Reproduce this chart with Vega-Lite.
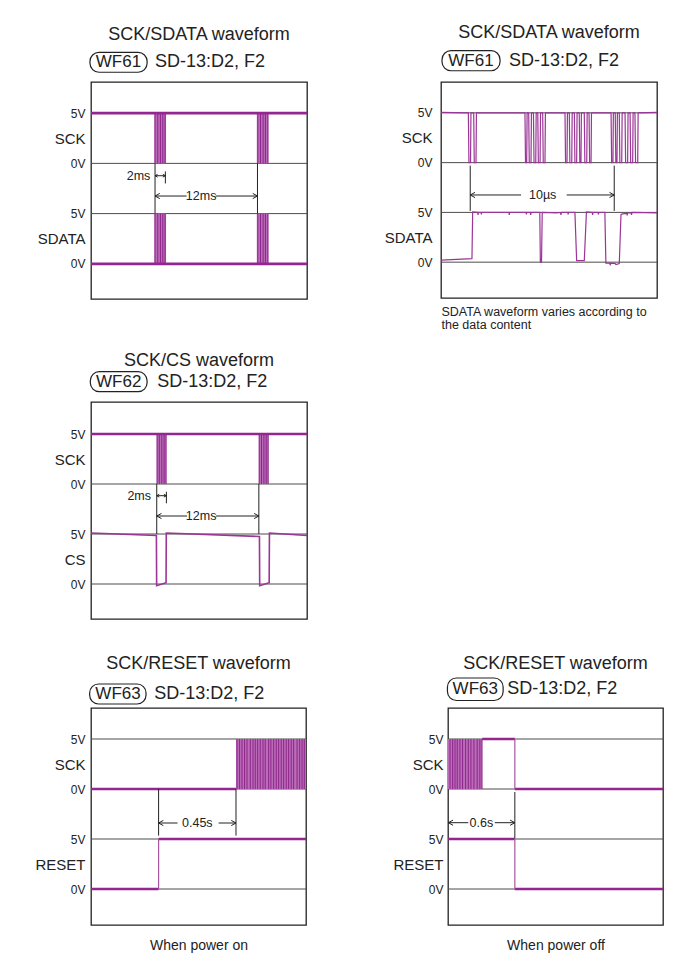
{
 "$schema": "https://vega.github.io/schema/vega-lite/v6.json",
 "background": "white",
 "padding": {"left": 32, "top": 23, "right": 5, "bottom": 5},
 "config": {
  "font": "Liberation Sans",
  "view": {"stroke": "#222", "strokeWidth": 1.3},
  "title": {"fontSize": 18, "fontWeight": "normal", "color": "#222", "frame": "group", "anchor": "middle", "baseline": "alphabetic"}
 },
 "spacing": 34,
 "vconcat": [
  {"spacing": 19, "vconcat": [
   {"spacing": 73, "hconcat": [
    {
     "width": 216, "height": 217,
     "title": {"text": "SCK/SDATA waveform", "offset": 8},
     "data": {"values": [
      {"k":"grid","t":0,"t2":25.3,"v":0},{"k":"grid","t":0,"t2":25.3,"v":5},{"k":"grid","t":0,"t2":25.3,"v":10},{"k":"grid","t":0,"t2":25.3,"v":15},
      {"k":"burst","t":7.42,"t2":8.79,"v":10,"v2":15},{"k":"burst","t":7.42,"t2":8.79,"v":0,"v2":5},
      {"k":"burst","t":19.42,"t2":20.79,"v":10,"v2":15},{"k":"burst","t":19.42,"t2":20.79,"v":0,"v2":5},
      {"k":"bl","t":7.5,"v":10,"v2":15},{"k":"bl","t":7.82,"v":10,"v2":15},{"k":"bl","t":8.13,"v":10,"v2":15},{"k":"bl","t":8.41,"v":10,"v2":15},{"k":"bl","t":8.68,"v":10,"v2":15},
      {"k":"bl","t":19.54,"v":10,"v2":15},{"k":"bl","t":19.85,"v":10,"v2":15},{"k":"bl","t":20.16,"v":10,"v2":15},{"k":"bl","t":20.43,"v":10,"v2":15},{"k":"bl","t":20.71,"v":10,"v2":15},
      {"k":"bl","t":7.5,"v":0,"v2":5},{"k":"bl","t":7.82,"v":0,"v2":5},{"k":"bl","t":8.13,"v":0,"v2":5},{"k":"bl","t":8.41,"v":0,"v2":5},{"k":"bl","t":8.68,"v":0,"v2":5},
      {"k":"bl","t":19.54,"v":0,"v2":5},{"k":"bl","t":19.85,"v":0,"v2":5},{"k":"bl","t":20.16,"v":0,"v2":5},{"k":"bl","t":20.43,"v":0,"v2":5},{"k":"bl","t":20.71,"v":0,"v2":5},
      {"k":"lvl","t":0,"t2":25.3,"v":15},{"k":"lvl","t":0,"t2":25.3,"v":0},
      {"k":"ann","t":7.5,"t2":7.5,"v":5,"v2":10},{"k":"ann","t":19.5,"t2":19.5,"v":5,"v2":10},
      {"k":"ann","t":8.71,"t2":8.71,"v":8.0,"v2":9.2},{"k":"ann","t":7.5,"t2":8.71,"v":8.77,"v2":8.77},
      {"k":"ann","t":7.5,"t2":11.2,"v":6.75,"v2":6.75},{"k":"ann","t":14.6,"t2":19.5,"v":6.75,"v2":6.75},
      {"k":"arr","t":7.5,"v":6.75,"dir":"L"},{"k":"arr","t":19.5,"v":6.75,"dir":"R"},
      {"k":"arrs","t":7.5,"v":8.77,"dir":"L"},{"k":"arrs","t":8.71,"v":8.77,"dir":"R"},
      {"k":"tc","t":12.9,"v":6.75,"label":"12ms"},
      {"k":"tr","t":6.95,"v":8.77,"label":"2ms"},
      {"k":"wfbox","t":-0.12,"t2":6.57,"v":19.07,"v2":21.05},
      {"k":"wf","t":3.22,"v":20.06,"label":"WF61"},
      {"k":"sub","t":7.5,"v":20.06,"label":"SD-13:D2, F2"}
     ]},
     "encoding": {
      "x": {"field":"t","type":"quantitative","scale":{"domain":[0,25.3],"nice":false,"zero":false},"axis":null},
      "y": {"field":"v","type":"quantitative","scale":{"domain":[-3.5,18.1],"nice":false,"zero":false},
            "axis":{"values":[0,2.5,5,10,12.5,15],"labelExpr":"datum.value==15||datum.value==5 ? '5V' : datum.value==10||datum.value==0 ? '0V' : datum.value==12.5 ? 'SCK' : 'SDATA'","title":null,"domain":false,"ticks":false,"grid":false,"labelPadding":6,"minExtent":58,"maxExtent":58,"labelColor":"#222","labelOverlap":false,"labelBound":false,"labelFlush":false,"labelFontSize":{"condition":{"test":"datum.value==2.5||datum.value==12.5","value":15},"value":12}}}
     },
     "layer": [
      {"transform":[{"filter":"datum.k=='grid'"}],"mark":{"type":"rule","color":"#4d4d4d","strokeWidth":1},"encoding":{"x2":{"field":"t2"}}},
      {"transform":[{"filter":"datum.k=='burst'"}],"mark":{"type":"rect","color":"#bb6cb8"},"encoding":{"x2":{"field":"t2"},"y2":{"field":"v2"}}},
      {"transform":[{"filter":"datum.k=='bl'"}],"mark":{"type":"rule","color":"#8c2489","strokeWidth":1},"encoding":{"y2":{"field":"v2"}}},
      {"transform":[{"filter":"datum.k=='lvl'"}],"mark":{"type":"rule","color":"#93278f","strokeWidth":2.6},"encoding":{"x2":{"field":"t2"}}},
      {"transform":[{"filter":"datum.k=='ann'"}],"mark":{"type":"rule","color":"#222","strokeWidth":1},"encoding":{"x2":{"field":"t2"},"y2":{"field":"v2"}}},
      {"transform":[{"filter":"datum.k=='arr'"}],"mark":{"type":"point","filled":false,"size":90,"color":"#222","strokeWidth":1,"opacity":1},"encoding":{"shape":{"field":"dir","type":"nominal","scale":{"domain":["L","R"],"range":["M0,0L1,-0.55M0,0L1,0.55","M0,0L-1,-0.55M0,0L-1,0.55"]},"legend":null}}},
      {"transform":[{"filter":"datum.k=='arrs'"}],"mark":{"type":"point","filled":false,"size":25,"color":"#222","strokeWidth":1,"opacity":1},"encoding":{"shape":{"field":"dir","type":"nominal","scale":{"domain":["L","R"],"range":["M0,0L1,-0.55M0,0L1,0.55","M0,0L-1,-0.55M0,0L-1,0.55"]},"legend":null}}},
      {"transform":[{"filter":"datum.k=='tc'"}],"mark":{"type":"text","fontSize":12.5,"color":"#222","align":"center","baseline":"middle"},"encoding":{"text":{"field":"label"}}},
      {"transform":[{"filter":"datum.k=='tr'"}],"mark":{"type":"text","fontSize":12.5,"color":"#222","align":"right","baseline":"middle"},"encoding":{"text":{"field":"label"}}},
      {"transform":[{"filter":"datum.k=='wfbox'"}],"mark":{"type":"rect","fill":"#ffffff","fillOpacity":0,"stroke":"#222","strokeWidth":1.2,"cornerRadius":9},"encoding":{"x2":{"field":"t2"},"y2":{"field":"v2"}}},
      {"transform":[{"filter":"datum.k=='wf'"}],"mark":{"type":"text","fontSize":17,"color":"#222","align":"center","baseline":"middle"},"encoding":{"text":{"field":"label"}}},
      {"transform":[{"filter":"datum.k=='sub'"}],"mark":{"type":"text","fontSize":18,"color":"#222","align":"left","baseline":"middle"},"encoding":{"text":{"field":"label"}}}
     ]
    },
    {
     "width": 216, "height": 216,
     "title": {"text": "SCK/SDATA waveform", "offset": 8},
     "data": {"values": [
      {"k":"grid","t":0,"t2":15,"v":0},{"k":"grid","t":0,"t2":15,"v":5},{"k":"grid","t":0,"t2":15,"v":10},{"k":"grid","t":0,"t2":15,"v":15},
      {"k":"wave","ch":"SCK","t":0,"v":15.05},
      {"k":"wave","ch":"SCK","t":1.90,"v":15},{"k":"wave","ch":"SCK","t":1.94,"v":10},{"k":"wave","ch":"SCK","t":2.05,"v":10},{"k":"wave","ch":"SCK","t":2.08,"v":15},
      {"k":"wave","ch":"SCK","t":2.27,"v":15},{"k":"wave","ch":"SCK","t":2.31,"v":10},{"k":"wave","ch":"SCK","t":2.43,"v":10},{"k":"wave","ch":"SCK","t":2.46,"v":15},
      {"k":"wave","ch":"SCK","t":5.83,"v":15},{"k":"wave","ch":"SCK","t":5.87,"v":10},{"k":"wave","ch":"SCK","t":5.95,"v":10},{"k":"wave","ch":"SCK","t":5.98,"v":15},
      {"k":"wave","ch":"SCK","t":6.09,"v":15},{"k":"wave","ch":"SCK","t":6.13,"v":10},{"k":"wave","ch":"SCK","t":6.25,"v":10},{"k":"wave","ch":"SCK","t":6.28,"v":15},
      {"k":"wave","ch":"SCK","t":6.42,"v":15},{"k":"wave","ch":"SCK","t":6.46,"v":10},{"k":"wave","ch":"SCK","t":6.58,"v":10},{"k":"wave","ch":"SCK","t":6.61,"v":15},
      {"k":"wave","ch":"SCK","t":6.72,"v":15},{"k":"wave","ch":"SCK","t":6.76,"v":10},{"k":"wave","ch":"SCK","t":6.88,"v":10},{"k":"wave","ch":"SCK","t":6.91,"v":15},
      {"k":"wave","ch":"SCK","t":7.06,"v":15},{"k":"wave","ch":"SCK","t":7.10,"v":10},{"k":"wave","ch":"SCK","t":7.22,"v":10},{"k":"wave","ch":"SCK","t":7.25,"v":15},
      {"k":"wave","ch":"SCK","t":8.61,"v":15},{"k":"wave","ch":"SCK","t":8.65,"v":10},{"k":"wave","ch":"SCK","t":8.75,"v":10},{"k":"wave","ch":"SCK","t":8.78,"v":15},
      {"k":"wave","ch":"SCK","t":8.91,"v":15},{"k":"wave","ch":"SCK","t":8.95,"v":10},{"k":"wave","ch":"SCK","t":9.08,"v":10},{"k":"wave","ch":"SCK","t":9.11,"v":15},
      {"k":"wave","ch":"SCK","t":9.26,"v":15},{"k":"wave","ch":"SCK","t":9.30,"v":10},{"k":"wave","ch":"SCK","t":9.42,"v":10},{"k":"wave","ch":"SCK","t":9.45,"v":15},
      {"k":"wave","ch":"SCK","t":9.60,"v":15},{"k":"wave","ch":"SCK","t":9.64,"v":10},{"k":"wave","ch":"SCK","t":9.72,"v":10},{"k":"wave","ch":"SCK","t":9.75,"v":15},
      {"k":"wave","ch":"SCK","t":9.95,"v":15},{"k":"wave","ch":"SCK","t":9.99,"v":10},{"k":"wave","ch":"SCK","t":10.12,"v":10},{"k":"wave","ch":"SCK","t":10.15,"v":15},
      {"k":"wave","ch":"SCK","t":10.28,"v":15},{"k":"wave","ch":"SCK","t":10.32,"v":10},{"k":"wave","ch":"SCK","t":10.42,"v":10},{"k":"wave","ch":"SCK","t":10.45,"v":15},
      {"k":"wave","ch":"SCK","t":11.81,"v":15},{"k":"wave","ch":"SCK","t":11.85,"v":10},{"k":"wave","ch":"SCK","t":11.94,"v":10},{"k":"wave","ch":"SCK","t":11.97,"v":15},
      {"k":"wave","ch":"SCK","t":12.10,"v":15},{"k":"wave","ch":"SCK","t":12.14,"v":10},{"k":"wave","ch":"SCK","t":12.22,"v":10},{"k":"wave","ch":"SCK","t":12.25,"v":15},
      {"k":"wave","ch":"SCK","t":12.38,"v":15},{"k":"wave","ch":"SCK","t":12.42,"v":10},{"k":"wave","ch":"SCK","t":12.55,"v":10},{"k":"wave","ch":"SCK","t":12.58,"v":15},
      {"k":"wave","ch":"SCK","t":12.78,"v":15},{"k":"wave","ch":"SCK","t":12.82,"v":10},{"k":"wave","ch":"SCK","t":12.96,"v":10},{"k":"wave","ch":"SCK","t":12.99,"v":15},
      {"k":"wave","ch":"SCK","t":13.13,"v":15},{"k":"wave","ch":"SCK","t":13.17,"v":10},{"k":"wave","ch":"SCK","t":13.31,"v":10},{"k":"wave","ch":"SCK","t":13.34,"v":15},
      {"k":"wave","ch":"SCK","t":13.47,"v":15},{"k":"wave","ch":"SCK","t":13.51,"v":10},{"k":"wave","ch":"SCK","t":13.66,"v":10},{"k":"wave","ch":"SCK","t":13.69,"v":15},
      {"k":"wave","ch":"SCK","t":15,"v":15.05},
      {"k":"wave","ch":"SDATA","t":0,"v":0.2},{"k":"wave","ch":"SDATA","t":2.15,"v":0.35},{"k":"wave","ch":"SDATA","t":2.2,"v":5.05},
      {"k":"wave","ch":"SDATA","t":2.55,"v":5.0},{"k":"wave","ch":"SDATA","t":2.57,"v":4.75},{"k":"wave","ch":"SDATA","t":2.6,"v":5.0},
      {"k":"wave","ch":"SDATA","t":2.78,"v":5.0},{"k":"wave","ch":"SDATA","t":2.8,"v":4.8},{"k":"wave","ch":"SDATA","t":2.83,"v":5.0},
      {"k":"wave","ch":"SDATA","t":4.72,"v":5.0},{"k":"wave","ch":"SDATA","t":4.74,"v":4.75},{"k":"wave","ch":"SDATA","t":4.77,"v":5.0},
      {"k":"wave","ch":"SDATA","t":5.9,"v":5.0},{"k":"wave","ch":"SDATA","t":5.93,"v":4.8},{"k":"wave","ch":"SDATA","t":5.96,"v":5.0},
      {"k":"wave","ch":"SDATA","t":6.2,"v":5.0},{"k":"wave","ch":"SDATA","t":6.23,"v":4.75},{"k":"wave","ch":"SDATA","t":6.26,"v":5.0},
      {"k":"wave","ch":"SDATA","t":6.86,"v":5.0},{"k":"wave","ch":"SDATA","t":6.9,"v":0.0},{"k":"wave","ch":"SDATA","t":6.98,"v":0.0},{"k":"wave","ch":"SDATA","t":7.03,"v":5.0},
      {"k":"wave","ch":"SDATA","t":8.0,"v":4.95},{"k":"wave","ch":"SDATA","t":8.3,"v":5.0},{"k":"wave","ch":"SDATA","t":8.33,"v":4.75},{"k":"wave","ch":"SDATA","t":8.36,"v":5.0},
      {"k":"wave","ch":"SDATA","t":8.8,"v":5.0},{"k":"wave","ch":"SDATA","t":8.83,"v":4.8},{"k":"wave","ch":"SDATA","t":8.86,"v":5.0},
      {"k":"wave","ch":"SDATA","t":9.3,"v":5.0},{"k":"wave","ch":"SDATA","t":9.42,"v":0.15},{"k":"wave","ch":"SDATA","t":9.95,"v":0.15},{"k":"wave","ch":"SDATA","t":10.1,"v":5.05},
      {"k":"wave","ch":"SDATA","t":10.5,"v":5.0},{"k":"wave","ch":"SDATA","t":10.53,"v":4.75},{"k":"wave","ch":"SDATA","t":10.56,"v":5.0},
      {"k":"wave","ch":"SDATA","t":10.9,"v":5.0},{"k":"wave","ch":"SDATA","t":10.93,"v":4.8},{"k":"wave","ch":"SDATA","t":10.96,"v":5.0},
      {"k":"wave","ch":"SDATA","t":11.38,"v":5.0},{"k":"wave","ch":"SDATA","t":11.45,"v":-0.1},{"k":"wave","ch":"SDATA","t":11.7,"v":-0.1},{"k":"wave","ch":"SDATA","t":11.75,"v":-0.25},
      {"k":"wave","ch":"SDATA","t":11.8,"v":-0.1},{"k":"wave","ch":"SDATA","t":12.1,"v":-0.15},{"k":"wave","ch":"SDATA","t":12.15,"v":-0.25},{"k":"wave","ch":"SDATA","t":12.38,"v":-0.15},
      {"k":"wave","ch":"SDATA","t":12.5,"v":4.8},{"k":"wave","ch":"SDATA","t":12.62,"v":4.85},{"k":"wave","ch":"SDATA","t":12.9,"v":4.9},{"k":"wave","ch":"SDATA","t":12.93,"v":4.7},
      {"k":"wave","ch":"SDATA","t":12.96,"v":4.95},{"k":"wave","ch":"SDATA","t":13.2,"v":4.95},{"k":"wave","ch":"SDATA","t":13.23,"v":4.75},{"k":"wave","ch":"SDATA","t":13.26,"v":5.0},
      {"k":"wave","ch":"SDATA","t":15,"v":4.95},
      {"k":"ann","t":2.03,"t2":2.03,"v":5.15,"v2":9.7},{"k":"ann","t":12.03,"t2":12.03,"v":5.15,"v2":9.7},
      {"k":"ann","t":2.03,"t2":5.56,"v":6.75,"v2":6.75},{"k":"ann","t":8.73,"t2":12.03,"v":6.75,"v2":6.75},
      {"k":"arr","t":2.03,"v":6.75,"dir":"L"},{"k":"arr","t":12.03,"v":6.75,"dir":"R"},
      {"k":"tc","t":7.06,"v":6.75,"label":"10µs"},
      {"k":"wfbox","t":0.07,"t2":4.1,"v":19.23,"v2":21.25},
      {"k":"wf","t":2.08,"v":20.24,"label":"WF61"},
      {"k":"sub","t":4.72,"v":20.24,"label":"SD-13:D2, F2"}
     ]},
     "encoding": {
      "x": {"field":"t","type":"quantitative","scale":{"domain":[0,15],"nice":false,"zero":false},
            "axis":{"labels":false,"ticks":false,"domain":false,"grid":false,"title":["SDATA waveform varies according to","the data content"],"titleFontSize":12.5,"titleFontWeight":"normal","titleColor":"#222","titleAnchor":"start","titleAlign":"left","titleBaseline":"top","titlePadding":7,"titleLineHeight":13}},
      "y": {"field":"v","type":"quantitative","scale":{"domain":[-3.6,18.1],"nice":false,"zero":false},
            "axis":{"values":[0,2.5,5,10,12.5,15],"labelExpr":"datum.value==15||datum.value==5 ? '5V' : datum.value==10||datum.value==0 ? '0V' : datum.value==12.5 ? 'SCK' : 'SDATA'","title":null,"domain":false,"ticks":false,"grid":false,"labelPadding":9,"minExtent":58,"maxExtent":58,"labelColor":"#222","labelOverlap":false,"labelBound":false,"labelFlush":false,"labelFontSize":{"condition":{"test":"datum.value==2.5||datum.value==12.5","value":15},"value":12}}}
     },
     "layer": [
      {"transform":[{"filter":"datum.k=='grid'"}],"mark":{"type":"rule","color":"#4d4d4d","strokeWidth":1},"encoding":{"x2":{"field":"t2"}}},
      {"transform":[{"filter":"datum.k=='wave'"}],"mark":{"type":"line","color":"#9b3597","strokeWidth":1.2},"encoding":{"detail":{"field":"ch"}}},
      {"transform":[{"filter":"datum.k=='ann'"}],"mark":{"type":"rule","color":"#222","strokeWidth":1},"encoding":{"x2":{"field":"t2"},"y2":{"field":"v2"}}},
      {"transform":[{"filter":"datum.k=='arr'"}],"mark":{"type":"point","filled":false,"size":90,"color":"#222","strokeWidth":1,"opacity":1},"encoding":{"shape":{"field":"dir","type":"nominal","scale":{"domain":["L","R"],"range":["M0,0L1,-0.55M0,0L1,0.55","M0,0L-1,-0.55M0,0L-1,0.55"]},"legend":null}}},
      {"transform":[{"filter":"datum.k=='tc'"}],"mark":{"type":"text","fontSize":12.5,"color":"#222","align":"center","baseline":"middle"},"encoding":{"text":{"field":"label"}}},
      {"transform":[{"filter":"datum.k=='wfbox'"}],"mark":{"type":"rect","fill":"#ffffff","fillOpacity":0,"stroke":"#222","strokeWidth":1.2,"cornerRadius":9},"encoding":{"x2":{"field":"t2"},"y2":{"field":"v2"}}},
      {"transform":[{"filter":"datum.k=='wf'"}],"mark":{"type":"text","fontSize":17,"color":"#222","align":"center","baseline":"middle"},"encoding":{"text":{"field":"label"}}},
      {"transform":[{"filter":"datum.k=='sub'"}],"mark":{"type":"text","fontSize":18,"color":"#222","align":"left","baseline":"middle"},"encoding":{"text":{"field":"label"}}}
     ]
    }
   ]},
   {
    "width": 216, "height": 217,
    "title": {"text": "SCK/CS waveform", "offset": 1.3},
    "data": {"values": [
     {"k":"grid","t":0,"t2":25.3,"v":0},{"k":"grid","t":0,"t2":25.3,"v":5},{"k":"grid","t":0,"t2":25.3,"v":10},{"k":"grid","t":0,"t2":25.3,"v":15},
     {"k":"burst","t":7.7,"t2":8.83,"v":10,"v2":15},{"k":"burst","t":19.66,"t2":20.78,"v":10,"v2":15},
     {"k":"bl","t":7.74,"v":10,"v2":15},{"k":"bl","t":8.0,"v":10,"v2":15},{"k":"bl","t":8.29,"v":10,"v2":15},{"k":"bl","t":8.56,"v":10,"v2":15},{"k":"bl","t":8.79,"v":10,"v2":15},
     {"k":"bl","t":19.7,"v":10,"v2":15},{"k":"bl","t":19.97,"v":10,"v2":15},{"k":"bl","t":20.25,"v":10,"v2":15},{"k":"bl","t":20.52,"v":10,"v2":15},{"k":"bl","t":20.75,"v":10,"v2":15},
     {"k":"lvl","t":0,"t2":25.3,"v":15},
     {"k":"wave","ch":"CS","t":0,"v":5.1},{"k":"wave","ch":"CS","t":7.66,"v":4.85},{"k":"wave","ch":"CS","t":7.69,"v":-0.17},{"k":"wave","ch":"CS","t":8.79,"v":0.13},
     {"k":"wave","ch":"CS","t":8.82,"v":5.1},{"k":"wave","ch":"CS","t":19.73,"v":4.75},{"k":"wave","ch":"CS","t":19.76,"v":-0.17},{"k":"wave","ch":"CS","t":20.87,"v":0.13},
     {"k":"wave","ch":"CS","t":20.9,"v":5.1},{"k":"wave","ch":"CS","t":25.3,"v":4.85},
     {"k":"ann","t":7.7,"t2":7.7,"v":5,"v2":10},{"k":"ann","t":19.66,"t2":19.66,"v":5,"v2":10},
     {"k":"ann","t":8.83,"t2":8.83,"v":8.07,"v2":9.23},{"k":"ann","t":7.7,"t2":8.83,"v":8.83,"v2":8.83},
     {"k":"ann","t":7.7,"t2":11.25,"v":6.8,"v2":6.8},{"k":"ann","t":14.65,"t2":19.66,"v":6.8,"v2":6.8},
     {"k":"arr","t":7.7,"v":6.8,"dir":"L"},{"k":"arr","t":19.66,"v":6.8,"dir":"R"},
     {"k":"arrs","t":7.7,"v":8.83,"dir":"L"},{"k":"arrs","t":8.83,"v":8.83,"dir":"R"},
     {"k":"tc","t":12.9,"v":6.8,"label":"12ms"},
     {"k":"tr","t":7.03,"v":8.83,"label":"2ms"},
     {"k":"wfbox","t":-0.08,"t2":6.57,"v":19.23,"v2":21.23},
     {"k":"wf","t":3.25,"v":20.23,"label":"WF62"},
     {"k":"sub","t":7.75,"v":20.23,"label":"SD-13:D2, F2"}
    ]},
    "encoding": {
     "x": {"field":"t","type":"quantitative","scale":{"domain":[0,25.3],"nice":false,"zero":false},"axis":null},
     "y": {"field":"v","type":"quantitative","scale":{"domain":[-3.5,18.2],"nice":false,"zero":false},
           "axis":{"values":[0,2.5,5,10,12.5,15],"labelExpr":"datum.value==15||datum.value==5 ? '5V' : datum.value==10||datum.value==0 ? '0V' : datum.value==12.5 ? 'SCK' : 'CS'","title":null,"domain":false,"ticks":false,"grid":false,"labelPadding":6,"minExtent":58,"maxExtent":58,"labelColor":"#222","labelOverlap":false,"labelBound":false,"labelFlush":false,"labelFontSize":{"condition":{"test":"datum.value==2.5||datum.value==12.5","value":15},"value":12}}}
    },
    "layer": [
     {"transform":[{"filter":"datum.k=='grid'"}],"mark":{"type":"rule","color":"#4d4d4d","strokeWidth":1},"encoding":{"x2":{"field":"t2"}}},
     {"transform":[{"filter":"datum.k=='burst'"}],"mark":{"type":"rect","color":"#bb6cb8"},"encoding":{"x2":{"field":"t2"},"y2":{"field":"v2"}}},
     {"transform":[{"filter":"datum.k=='bl'"}],"mark":{"type":"rule","color":"#8c2489","strokeWidth":1},"encoding":{"y2":{"field":"v2"}}},
     {"transform":[{"filter":"datum.k=='lvl'"}],"mark":{"type":"rule","color":"#93278f","strokeWidth":2.6},"encoding":{"x2":{"field":"t2"}}},
     {"transform":[{"filter":"datum.k=='wave'"}],"mark":{"type":"line","color":"#9b3597","strokeWidth":1.6},"encoding":{"detail":{"field":"ch"}}},
     {"transform":[{"filter":"datum.k=='ann'"}],"mark":{"type":"rule","color":"#222","strokeWidth":1},"encoding":{"x2":{"field":"t2"},"y2":{"field":"v2"}}},
     {"transform":[{"filter":"datum.k=='arr'"}],"mark":{"type":"point","filled":false,"size":90,"color":"#222","strokeWidth":1,"opacity":1},"encoding":{"shape":{"field":"dir","type":"nominal","scale":{"domain":["L","R"],"range":["M0,0L1,-0.55M0,0L1,0.55","M0,0L-1,-0.55M0,0L-1,0.55"]},"legend":null}}},
     {"transform":[{"filter":"datum.k=='arrs'"}],"mark":{"type":"point","filled":false,"size":25,"color":"#222","strokeWidth":1,"opacity":1},"encoding":{"shape":{"field":"dir","type":"nominal","scale":{"domain":["L","R"],"range":["M0,0L1,-0.55M0,0L1,0.55","M0,0L-1,-0.55M0,0L-1,0.55"]},"legend":null}}},
     {"transform":[{"filter":"datum.k=='tc'"}],"mark":{"type":"text","fontSize":12.5,"color":"#222","align":"center","baseline":"middle"},"encoding":{"text":{"field":"label"}}},
     {"transform":[{"filter":"datum.k=='tr'"}],"mark":{"type":"text","fontSize":12.5,"color":"#222","align":"right","baseline":"middle"},"encoding":{"text":{"field":"label"}}},
     {"transform":[{"filter":"datum.k=='wfbox'"}],"mark":{"type":"rect","fill":"#ffffff","fillOpacity":0,"stroke":"#222","strokeWidth":1.2,"cornerRadius":9},"encoding":{"x2":{"field":"t2"},"y2":{"field":"v2"}}},
     {"transform":[{"filter":"datum.k=='wf'"}],"mark":{"type":"text","fontSize":17,"color":"#222","align":"center","baseline":"middle"},"encoding":{"text":{"field":"label"}}},
     {"transform":[{"filter":"datum.k=='sub'"}],"mark":{"type":"text","fontSize":18,"color":"#222","align":"left","baseline":"middle"},"encoding":{"text":{"field":"label"}}}
    ]
   }
  ]},
  {"spacing": 81, "hconcat": [
   {
    "width": 215, "height": 217,
    "title": {"text": "SCK/RESET waveform", "offset": 10.2},
    "data": {"values": [
     {"k":"grid","t":0,"t2":1.25,"v":0},{"k":"grid","t":0,"t2":1.25,"v":5},{"k":"grid","t":0,"t2":1.25,"v":10},{"k":"grid","t":0,"t2":1.25,"v":15},
     {"k":"burst","t":0.843,"t2":1.25,"v":10,"v2":15},
     {"k":"bl","t":0.849,"v":10,"v2":15},{"k":"bl","t":0.864,"v":10,"v2":15},{"k":"bl","t":0.878,"v":10,"v2":15},{"k":"bl","t":0.893,"v":10,"v2":15},
     {"k":"bl","t":0.907,"v":10,"v2":15},{"k":"bl","t":0.926,"v":10,"v2":15},{"k":"bl","t":0.942,"v":10,"v2":15},{"k":"bl","t":0.955,"v":10,"v2":15},
     {"k":"bl","t":0.969,"v":10,"v2":15},{"k":"bl","t":0.984,"v":10,"v2":15},{"k":"bl","t":1.0,"v":10,"v2":15},{"k":"bl","t":1.013,"v":10,"v2":15},
     {"k":"bl","t":1.033,"v":10,"v2":15},{"k":"bl","t":1.046,"v":10,"v2":15},{"k":"bl","t":1.062,"v":10,"v2":15},{"k":"bl","t":1.077,"v":10,"v2":15},
     {"k":"bl","t":1.091,"v":10,"v2":15},{"k":"bl","t":1.106,"v":10,"v2":15},{"k":"bl","t":1.12,"v":10,"v2":15},{"k":"bl","t":1.135,"v":10,"v2":15},
     {"k":"bl","t":1.149,"v":10,"v2":15},{"k":"bl","t":1.164,"v":10,"v2":15},{"k":"bl","t":1.178,"v":10,"v2":15},{"k":"bl","t":1.198,"v":10,"v2":15},
     {"k":"bl","t":1.213,"v":10,"v2":15},{"k":"bl","t":1.227,"v":10,"v2":15},{"k":"bl","t":1.24,"v":10,"v2":15},
     {"k":"lvl","t":0,"t2":0.843,"v":10},{"k":"lvl","t":0,"t2":0.393,"v":0},{"k":"lvl","t":0.393,"t2":1.25,"v":5},
     {"k":"edge","t":0.393,"v":0,"v2":5},
     {"k":"ann","t":0.393,"t2":0.393,"v":5.34,"v2":10},{"k":"ann","t":0.843,"t2":0.843,"v":5.34,"v2":10},
     {"k":"ann","t":0.393,"t2":0.503,"v":6.6,"v2":6.6},{"k":"ann","t":0.742,"t2":0.843,"v":6.6,"v2":6.6},
     {"k":"arr","t":0.393,"v":6.6,"dir":"L"},{"k":"arr","t":0.843,"v":6.6,"dir":"R"},
     {"k":"tc","t":0.618,"v":6.6,"label":"0.45s"},
     {"k":"wfbox","t":-0.008,"t2":0.32,"v":18.5,"v2":20.5},
     {"k":"wf","t":0.157,"v":19.5,"label":"WF63"},
     {"k":"sub","t":0.368,"v":19.5,"label":"SD-13:D2, F2"}
    ]},
    "encoding": {
     "x": {"field":"t","type":"quantitative","scale":{"domain":[0,1.25],"nice":false,"zero":false},
           "axis":{"labels":false,"ticks":false,"domain":false,"grid":false,"title":"When power on","titleFontSize":14,"titleFontWeight":"normal","titleColor":"#222","titleBaseline":"top","titlePadding":13}},
     "y": {"field":"v","type":"quantitative","scale":{"domain":[-3.6,18.1],"nice":false,"zero":false},
           "axis":{"values":[0,2.5,5,10,12.5,15],"labelExpr":"datum.value==15||datum.value==5 ? '5V' : datum.value==10||datum.value==0 ? '0V' : datum.value==12.5 ? 'SCK' : 'RESET'","title":null,"domain":false,"ticks":false,"grid":false,"labelPadding":6,"minExtent":58,"maxExtent":58,"labelColor":"#222","labelOverlap":false,"labelBound":false,"labelFlush":false,"labelFontSize":{"condition":{"test":"datum.value==2.5||datum.value==12.5","value":15},"value":12}}}
    },
    "layer": [
     {"transform":[{"filter":"datum.k=='grid'"}],"mark":{"type":"rule","color":"#4d4d4d","strokeWidth":1},"encoding":{"x2":{"field":"t2"}}},
     {"transform":[{"filter":"datum.k=='burst'"}],"mark":{"type":"rect","color":"#bb6cb8"},"encoding":{"x2":{"field":"t2"},"y2":{"field":"v2"}}},
     {"transform":[{"filter":"datum.k=='bl'"}],"mark":{"type":"rule","color":"#8c2489","strokeWidth":1},"encoding":{"y2":{"field":"v2"}}},
     {"transform":[{"filter":"datum.k=='lvl'"}],"mark":{"type":"rule","color":"#93278f","strokeWidth":2.6},"encoding":{"x2":{"field":"t2"}}},
     {"transform":[{"filter":"datum.k=='edge'"}],"mark":{"type":"rule","color":"#a9559f","strokeWidth":1.2},"encoding":{"y2":{"field":"v2"}}},
     {"transform":[{"filter":"datum.k=='ann'"}],"mark":{"type":"rule","color":"#222","strokeWidth":1},"encoding":{"x2":{"field":"t2"},"y2":{"field":"v2"}}},
     {"transform":[{"filter":"datum.k=='arr'"}],"mark":{"type":"point","filled":false,"size":90,"color":"#222","strokeWidth":1,"opacity":1},"encoding":{"shape":{"field":"dir","type":"nominal","scale":{"domain":["L","R"],"range":["M0,0L1,-0.55M0,0L1,0.55","M0,0L-1,-0.55M0,0L-1,0.55"]},"legend":null}}},
     {"transform":[{"filter":"datum.k=='tc'"}],"mark":{"type":"text","fontSize":12.5,"color":"#222","align":"center","baseline":"middle"},"encoding":{"text":{"field":"label"}}},
     {"transform":[{"filter":"datum.k=='wfbox'"}],"mark":{"type":"rect","fill":"#ffffff","fillOpacity":0,"stroke":"#222","strokeWidth":1.2,"cornerRadius":9},"encoding":{"x2":{"field":"t2"},"y2":{"field":"v2"}}},
     {"transform":[{"filter":"datum.k=='wf'"}],"mark":{"type":"text","fontSize":17,"color":"#222","align":"center","baseline":"middle"},"encoding":{"text":{"field":"label"}}},
     {"transform":[{"filter":"datum.k=='sub'"}],"mark":{"type":"text","fontSize":18,"color":"#222","align":"left","baseline":"middle"},"encoding":{"text":{"field":"label"}}}
    ]
   },
   {
    "width": 215, "height": 217,
    "title": {"text": "SCK/RESET waveform", "offset": 4.2},
    "data": {"values": [
     {"k":"grid","t":0,"t2":1.93,"v":0},{"k":"grid","t":0,"t2":1.93,"v":5},{"k":"grid","t":0,"t2":1.93,"v":10},{"k":"grid","t":0,"t2":1.93,"v":15},
     {"k":"burst","t":0,"t2":0.307,"v":10,"v2":15},
     {"k":"bl","t":0.018,"v":10,"v2":15},{"k":"bl","t":0.042,"v":10,"v2":15},{"k":"bl","t":0.063,"v":10,"v2":15},{"k":"bl","t":0.083,"v":10,"v2":15},
     {"k":"bl","t":0.107,"v":10,"v2":15},{"k":"bl","t":0.131,"v":10,"v2":15},{"k":"bl","t":0.158,"v":10,"v2":15},{"k":"bl","t":0.182,"v":10,"v2":15},
     {"k":"bl","t":0.206,"v":10,"v2":15},{"k":"bl","t":0.233,"v":10,"v2":15},{"k":"bl","t":0.262,"v":10,"v2":15},{"k":"bl","t":0.286,"v":10,"v2":15},
     {"k":"bl","t":0.305,"v":10,"v2":15},
     {"k":"lvl","t":0.307,"t2":0.6,"v":15},{"k":"lvl","t":0.6,"t2":1.93,"v":10},{"k":"lvl","t":0,"t2":0.6,"v":5},{"k":"lvl","t":0.6,"t2":1.93,"v":0},
     {"k":"edge","t":0.6,"v":10,"v2":15},{"k":"edge","t":0.6,"v":0,"v2":5},
     {"k":"ann","t":0.6,"t2":0.6,"v":5.07,"v2":9.7},
     {"k":"ann","t":0,"t2":0.182,"v":6.63,"v2":6.63},{"k":"ann","t":0.42,"t2":0.6,"v":6.63,"v2":6.63},
     {"k":"arr","t":0.003,"v":6.63,"dir":"L"},{"k":"arr","t":0.6,"v":6.63,"dir":"R"},
     {"k":"tc","t":0.3,"v":6.63,"label":"0.6s"},
     {"k":"wfbox","t":-0.005,"t2":0.495,"v":18.85,"v2":21.1},
     {"k":"wf","t":0.245,"v":19.97,"label":"WF63"},
     {"k":"sub","t":0.531,"v":19.97,"label":"SD-13:D2, F2"}
    ]},
    "encoding": {
     "x": {"field":"t","type":"quantitative","scale":{"domain":[0,1.93],"nice":false,"zero":false},
           "axis":{"labels":false,"ticks":false,"domain":false,"grid":false,"title":"When power off","titleFontSize":14,"titleFontWeight":"normal","titleColor":"#222","titleBaseline":"top","titlePadding":13}},
     "y": {"field":"v","type":"quantitative","scale":{"domain":[-3.6,18.1],"nice":false,"zero":false},
           "axis":{"values":[0,2.5,5,10,12.5,15],"labelExpr":"datum.value==15||datum.value==5 ? '5V' : datum.value==10||datum.value==0 ? '0V' : datum.value==12.5 ? 'SCK' : 'RESET'","title":null,"domain":false,"ticks":false,"grid":false,"labelPadding":5,"minExtent":58,"maxExtent":58,"labelColor":"#222","labelOverlap":false,"labelBound":false,"labelFlush":false,"labelFontSize":{"condition":{"test":"datum.value==2.5||datum.value==12.5","value":15},"value":12}}}
    },
    "layer": [
     {"transform":[{"filter":"datum.k=='grid'"}],"mark":{"type":"rule","color":"#4d4d4d","strokeWidth":1},"encoding":{"x2":{"field":"t2"}}},
     {"transform":[{"filter":"datum.k=='burst'"}],"mark":{"type":"rect","color":"#bb6cb8"},"encoding":{"x2":{"field":"t2"},"y2":{"field":"v2"}}},
     {"transform":[{"filter":"datum.k=='bl'"}],"mark":{"type":"rule","color":"#8c2489","strokeWidth":1},"encoding":{"y2":{"field":"v2"}}},
     {"transform":[{"filter":"datum.k=='lvl'"}],"mark":{"type":"rule","color":"#93278f","strokeWidth":2.6},"encoding":{"x2":{"field":"t2"}}},
     {"transform":[{"filter":"datum.k=='edge'"}],"mark":{"type":"rule","color":"#a9559f","strokeWidth":1.2},"encoding":{"y2":{"field":"v2"}}},
     {"transform":[{"filter":"datum.k=='ann'"}],"mark":{"type":"rule","color":"#222","strokeWidth":1},"encoding":{"x2":{"field":"t2"},"y2":{"field":"v2"}}},
     {"transform":[{"filter":"datum.k=='arr'"}],"mark":{"type":"point","filled":false,"size":90,"color":"#222","strokeWidth":1,"opacity":1},"encoding":{"shape":{"field":"dir","type":"nominal","scale":{"domain":["L","R"],"range":["M0,0L1,-0.55M0,0L1,0.55","M0,0L-1,-0.55M0,0L-1,0.55"]},"legend":null}}},
     {"transform":[{"filter":"datum.k=='tc'"}],"mark":{"type":"text","fontSize":12.5,"color":"#222","align":"center","baseline":"middle"},"encoding":{"text":{"field":"label"}}},
     {"transform":[{"filter":"datum.k=='wfbox'"}],"mark":{"type":"rect","fill":"#ffffff","fillOpacity":0,"stroke":"#222","strokeWidth":1.2,"cornerRadius":9},"encoding":{"x2":{"field":"t2"},"y2":{"field":"v2"}}},
     {"transform":[{"filter":"datum.k=='wf'"}],"mark":{"type":"text","fontSize":17,"color":"#222","align":"center","baseline":"middle"},"encoding":{"text":{"field":"label"}}},
     {"transform":[{"filter":"datum.k=='sub'"}],"mark":{"type":"text","fontSize":18,"color":"#222","align":"left","baseline":"middle"},"encoding":{"text":{"field":"label"}}}
    ]
   }
  ]}
 ]
}
